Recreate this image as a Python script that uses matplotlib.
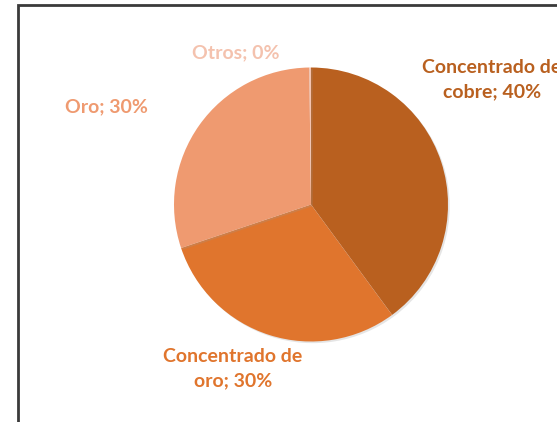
import matplotlib.pyplot as plt
import matplotlib.patheffects as pe
from matplotlib.patches import Rectangle

# data
categories = ['Concentrado de\ncobre', 'Concentrado de\noro', 'Oro', 'Otros']
values = [40, 30, 30, 0.2]
colors = ['#B9601F', '#E0752D', '#EF9A70', '#F4C2AE']
label_pos = [(1.32, 0.91), (-0.57, -1.20), (-1.49, 0.71), (-0.55, 1.11)]

plt.rcParams['font.family'] = ['Lato', 'DejaVu Sans']

fig = plt.figure(figsize=(5.57, 4.22), dpi=100)
fig.patch.set_facecolor('white')

# chart frame
fig.patches.append(Rectangle((18 / 557, -0.1), 1.2, (417 / 422) + 0.1, transform=fig.transFigure,
                             fill=False, edgecolor='#3a3a3a', linewidth=2))

ax = fig.add_axes([174 / 557, 80.5 / 422, 274 / 557, 274 / 422])
wedges, _ = ax.pie(values, colors=colors, startangle=90, counterclock=False,
                   wedgeprops=dict(linewidth=0))
for w in wedges:
    w.set_path_effects([pe.SimplePatchShadow(offset=(1.2, -1.2), shadow_rgbFace='#999999', alpha=0.25),
                        pe.Normal()])
ax.set_xlim(-1, 1)
ax.set_ylim(-1, 1)
ax.set_aspect('equal')
ax.axis('off')

total = sum(values)
for cat, v, c, (x, y) in zip(categories, values, colors, label_pos):
    pct = round(v / total * 100)
    txt = cat + '; ' + str(pct) + '%'
    ax.text(x, y, txt, color=c, fontsize=14, fontweight='bold', ha='center', va='center',
            linespacing=1.5, clip_on=False)

fig.savefig('out.png', dpi=100)
